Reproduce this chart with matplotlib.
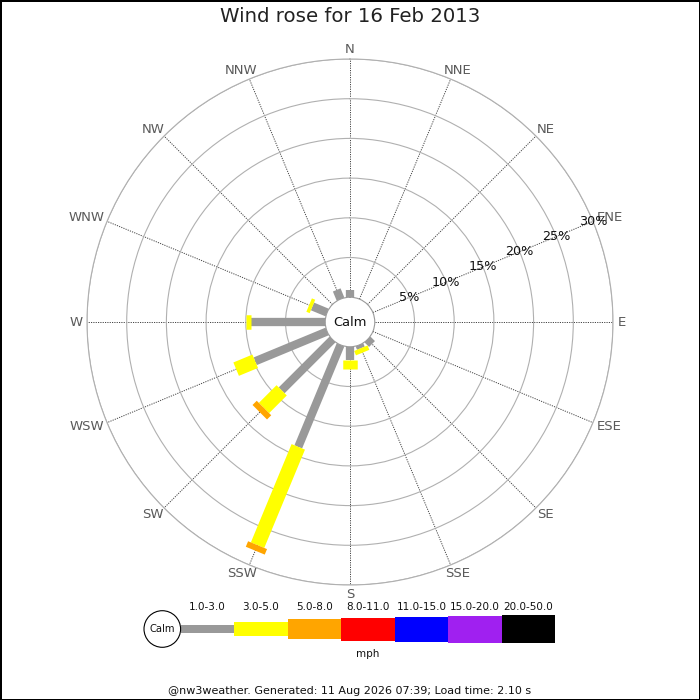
import numpy as np
import matplotlib
matplotlib.use("Agg")
import matplotlib.pyplot as plt
from matplotlib.patches import Ellipse

# ---------------- data ----------------
directions = ['N', 'NNE', 'NE', 'ENE', 'E', 'ESE', 'SE', 'SSE',
              'S', 'SSW', 'SW', 'WSW', 'W', 'WNW', 'NW', 'NNW']
speed_bins = ['1.0-3.0', '3.0-5.0', '5.0-8.0', '8.0-11.0',
              '11.0-15.0', '15.0-20.0', '20.0-50.0']
bin_colors = ['#999999', '#ffff00', '#ffa500', '#ff0000',
              '#0000ff', '#a020f0', '#000000']
# percentage of time per direction, per speed bin
pct_1_3 = [0.95, 0, 0, 0, 0, 0, 0.8, 0.45, 1.7, 13.9, 9.05, 9.8, 9.4, 2.0, 0, 1.25]
pct_3_5 = [0, 0, 0, 0, 0, 0, 0, 0.6, 1.05, 13.4, 3.15, 2.6, 0.55, 0.45, 0, 0]
pct_5_8 = [0, 0, 0, 0, 0, 0, 0, 0, 0, 0.75, 0.75, 0, 0, 0, 0, 0]
series = [pct_1_3, pct_3_5, pct_5_8]
ring_values = [5, 10, 15, 20, 25, 30]
ring_labels = ['5%', '10%', '15%', '20%', '25%', '30%']
title = 'Wind rose for 16 Feb 2013'
footer = '@nw3weather. Generated: 11 Aug 2026 07:39; Load time: 2.10 s'

# ---------------- styles ----------------
bar_px = [8.3, 14.5, 20.5, 23, 25, 27, 28.3]   # thickness in pixels
PX2PT = 0.72
label_grey = '#5a5a5a'

fig = plt.figure(figsize=(7, 7), dpi=100)
fig.patch.set_facecolor('white')
fig.patch.set_edgecolor('black')
fig.patch.set_linewidth(0.9)

R_px = 263.0
ax = fig.add_axes([87 / 700, 115 / 700, 526 / 700, 526 / 700], projection='polar')
ax.set_theta_zero_location('N')
ax.set_theta_direction(-1)
rmax = 30
ax.set_ylim(0, rmax)
R0 = 3.12
ax.set_rorigin(-R0)

theta = np.deg2rad(np.arange(16) * 22.5)
ax.set_xticks(theta)
ax.set_xticklabels([])
ax.set_yticks(ring_values)
ax.set_yticklabels([])
ax.tick_params(length=0)
ax.xaxis.grid(True, color='#444444', linestyle=(0, (1.2, 1.2)), linewidth=0.7)
ax.yaxis.grid(True, color='#b0b0b0', linestyle='-', linewidth=0.8)
ax.spines['polar'].set_color('#b0b0b0')
ax.spines['polar'].set_linewidth(0.8)
if 'inner' in ax.spines:
    ax.spines['inner'].set_color('#999999')
    ax.spines['inner'].set_linewidth(0.8)
ax.set_facecolor('white')

# bars (stacked radial segments with constant pixel thickness)
for i, t in enumerate(theta):
    base = 0.0
    for k, vals in enumerate(series):
        v = vals[i]
        if v > 0:
            ax.plot([t, t], [base, base + v], color=bin_colors[k],
                    linewidth=bar_px[k] * PX2PT, solid_capstyle='butt', zorder=3)
            base += v

# radial ring labels along ENE
lab_t = np.deg2rad(67.5)
for v, s in zip(ring_values, ring_labels):
    ax.text(lab_t, v, s, ha='center', va='center', fontsize=9.2,
            color='#111111', zorder=4)

# direction labels outside outer ring
fs_dir = 9.5
em = fs_dir / 72 * 100
cw = {'N': 0.748, 'E': 0.632, 'S': 0.635, 'W': 0.989}
for t, d in zip(theta, directions):
    w = sum(cw[c] for c in d) * em
    h = 0.729 * em
    ox = np.sin(t) * (w / 2 + 4.5)
    oy = np.cos(t) * (h / 2 + 4.5)
    ax.annotate(d, xy=(t, rmax), xytext=(ox * PX2PT, oy * PX2PT),
                textcoords='offset points', ha='center', va='center',
                fontsize=fs_dir, color=label_grey, annotation_clip=False)

# Calm text in centre
ax.text(0, -R0, 'Calm', ha='center', va='center', fontsize=9.4,
        color='#111111', zorder=5)

fig.text(0.5, 1 - 17 / 700, title, ha='center', va='center',
         fontsize=14.2, color='#222222')

# ---------------- legend ----------------
seg = 53.47
nb = len(speed_bins)
lw_px = seg * nb
lax = fig.add_axes([180.7 / 700, (700 - 629 - 30) / 700, lw_px / 700, 60 / 700])
lax.set_xlim(0, lw_px)
lax.set_ylim(-30, 30)
lax.axis('off')
lefts = np.arange(nb) * seg
lax.bar(lefts, bar_px, width=seg, bottom=-np.array(bar_px) / 2,
        color=bin_colors, align='edge', linewidth=0)
for x0, s in zip(lefts, speed_bins):
    lax.text(x0 + seg / 2, 22, s, ha='center', va='center', fontsize=7.5,
             color='#111111')
lax.text(lw_px / 2, -25, 'mph', ha='center', va='center', fontsize=7.5,
         color='#111111')
lax.add_patch(Ellipse((-18.4, 0), 36.6, 36.6, facecolor='white',
                      edgecolor='black', linewidth=0.8, clip_on=False))
lax.text(-18.4, 0, 'Calm', ha='center', va='center', fontsize=7.2,
         color='#111111')

fig.text(0.5, 1 - 691 / 700, footer, ha='center', va='center',
         fontsize=8, color='#111111')

fig.savefig('out.png', dpi=100, facecolor=fig.get_facecolor(),
            edgecolor=fig.get_edgecolor())
